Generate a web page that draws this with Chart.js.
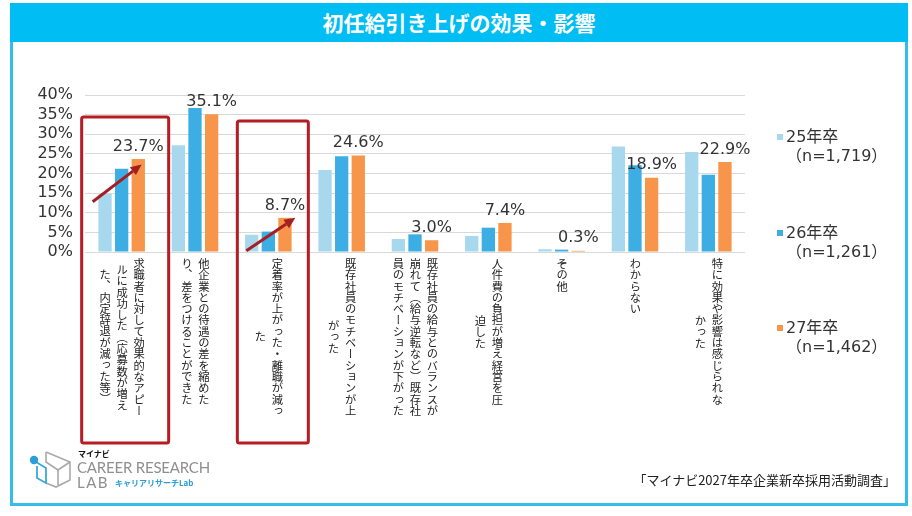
<!DOCTYPE html>
<html lang="ja">
<head>
<meta charset="utf-8">
<script src="https://cdn.jsdelivr.net/npm/chart.js@4/dist/chart.umd.min.js"></script>
<style>
  body { margin:0; width:912px; height:516px; position:relative; background:#fff; overflow:hidden;
         font-family:"Noto Sans CJK JP", sans-serif; color:#333; }
  #frame { position:absolute; left:10px; top:3px; width:892px; height:497px; border:3px solid #35bde9; }
  #title { position:absolute; left:10px; top:3px; width:898px; height:39px; background:#00bdf3;
           color:#fff; font-weight:bold; font-size:21px; line-height:39px; text-align:center; }
  #cv { position:absolute; left:0; top:0; }
  .cat { position:absolute; writing-mode:vertical-rl; text-align:center; font-size:11.3px;
         line-height:17px; white-space:nowrap; color:#222; transform:translateX(-50%); }
  .leg { position:absolute; left:777px; font-family:"DejaVu Sans","Noto Sans CJK JP",sans-serif;
         font-size:16px; line-height:19px; color:#333; }
  .leg i { position:absolute; left:0; top:7px; width:6px; height:6px; }
  .leg span { display:block; margin-left:9px; white-space:nowrap; }
  #foot { position:absolute; right:16px; top:470px; font-size:13px; color:#222; }
  #logo { position:absolute; left:28px; top:450px; }
  .lt { position:absolute; font-family:"Lato","DejaVu Sans",sans-serif; color:#8f8f8f; }
</style>
</head>
<body>
<div id="frame"></div>
<div id="title">初任給引き上げの効果・影響</div>
<canvas id="cv" width="912" height="516"></canvas>
<div id="foot">「マイナビ2027年卒企業新卒採用活動調査」</div>
<svg id="logo" width="46" height="40" viewBox="0 0 46 40">
  <polyline points="18,2 42,12 42,30 28,37 18,33" fill="none" stroke="#a9a9a9" stroke-width="1.6"/>
  <polyline points="18,2 18,12 30,20 42,12" fill="none" stroke="#a9a9a9" stroke-width="1.6"/>
  <polyline points="30,20 30,35" fill="none" stroke="#a9a9a9" stroke-width="1.6"/>
  <polyline points="8,12 18,18 18,33 9,28 9,16" fill="none" stroke="#3aa8dc" stroke-width="1.8"/>
  <circle cx="6" cy="10" r="4.2" fill="#2b9ed8"/>
</svg>
<div class="lt" style="left:78px;top:448px;font-size:8px;font-weight:bold;color:#111;font-family:'Noto Sans CJK JP'">マイナビ</div>
<div class="lt" style="left:77px;top:458px;font-size:15px;letter-spacing:-0.2px">CAREER RESEARCH</div>
<div class="lt" style="left:77px;top:473px;font-size:15px;letter-spacing:1.5px">LAB</div>
<div class="lt" style="left:115px;top:477px;font-size:8px;font-weight:bold;color:#2b9ed8;font-family:'Noto Sans CJK JP'">キャリアリサーチLab</div>

<script>
// 初任給引き上げの効果・影響
var categories = [
  ['求職者に対して効果的なアピー', 'ルに成功した（応募数が増え', 'た、内定辞退が減った等）'],
  ['他企業との待遇の差を縮めた', 'り、差をつけることができた'],
  ['定着率が上がった・離職が減っ', 'た'],
  ['既存社員のモチベーションが上', 'がった'],
  ['既存社員の給与とのバランスが', '崩れて（給与逆転など）既存社', '員のモチベーションが下がった'],
  ['人件費の負担が増え経営を圧', '迫した'],
  ['その他'],
  ['わからない'],
  ['特に効果や影響は感じられな', 'かった']
];
var seriesNames = ['25年卒', '26年卒', '27年卒'];
var seriesN = ['（n=1,719）', '（n=1,261）', '（n=1,462）'];
var s25 = [14.8, 27.2, 4.4, 20.9, 3.3, 4.1, 0.7, 26.9, 25.5];
var s26 = [21.2, 36.7, 5.2, 24.4, 4.5, 6.2, 0.6, 22.1, 19.7];
var s27 = [23.7, 35.1, 8.7, 24.6, 3.0, 7.4, 0.3, 18.9, 22.9];
var yTicks = [0, 5, 10, 15, 20, 25, 30, 35, 40];

var colors = ['#a8d8ed', '#3daee4', '#f7954a'];
var RED = '#b71c22';

// 縦書きの項目名 (HTML)
var catDivs = categories.map(function (lines) {
  var d = document.createElement('div');
  d.className = 'cat';
  d.innerHTML = lines.join('<br>');
  document.body.appendChild(d);
  return d;
});

// 凡例
seriesNames.forEach(function (nm, i) {
  var d = document.createElement('div');
  d.className = 'leg';
  d.style.top = (127 + i * 95.5) + 'px';
  d.innerHTML = '<i style="background:' + colors[i] + '"></i><span>' + nm + '</span><span>' + seriesN[i] + '</span>';
  document.body.appendChild(d);
});

function arrow(ctx, x1, y1, x2, y2) {
  var a = Math.atan2(y2 - y1, x2 - x1);
  var hl = 11, hw = 5;
  var bx = x2 - hl * Math.cos(a), by = y2 - hl * Math.sin(a);
  ctx.strokeStyle = '#a51e22';
  ctx.fillStyle = '#a51e22';
  ctx.lineWidth = 3;
  ctx.beginPath();
  ctx.moveTo(x1, y1);
  ctx.lineTo(bx, by);
  ctx.stroke();
  ctx.beginPath();
  ctx.moveTo(x2, y2);
  ctx.lineTo(bx + hw * Math.sin(a), by - hw * Math.cos(a));
  ctx.lineTo(bx - hw * Math.sin(a), by + hw * Math.cos(a));
  ctx.closePath();
  ctx.fill();
}

var extras = {
  id: 'extras',
  afterDatasetsDraw: function (chart) {
    var ctx = chart.ctx;
    var x = chart.scales.x, y = chart.scales.y;
    var bottom = chart.chartArea.bottom;

    // 27年卒の数値ラベル
    ctx.save();
    ctx.font = '16px "DejaVu Sans"';
    ctx.fillStyle = '#333';
    ctx.textAlign = 'center';
    ctx.textBaseline = 'middle';
    chart.getDatasetMeta(2).data.forEach(function (bar, i) {
      ctx.fillText(s27[i].toFixed(1) + '%', bar.x, bar.y - 12.5);
    });

    // 赤枠
    ctx.strokeStyle = RED;
    ctx.lineWidth = 3;
    var c0 = x.getPixelForValue(0), c2 = x.getPixelForValue(2);
    ctx.beginPath();
    ctx.roundRect(c0 - 40, y.getPixelForValue(34.4), 87, bottom + 191 - y.getPixelForValue(34.4), 2);
    ctx.stroke();
    ctx.beginPath();
    ctx.roundRect(c2 - 31, y.getPixelForValue(33.4), 71, bottom + 191 - y.getPixelForValue(33.4), 2);
    ctx.stroke();

    // 矢印
    arrow(ctx, c0 - 29, y.getPixelForValue(12.8), c0 + 20, y.getPixelForValue(22.3));
    arrow(ctx, c2 - 22, y.getPixelForValue(0.3), c2 + 27, y.getPixelForValue(8.7));
    ctx.restore();

    // 項目名の位置
    catDivs.forEach(function (d, i) {
      d.style.left = x.getPixelForValue(i) + 'px';
      d.style.top = (bottom + 6) + 'px';
    });
  }
};

new Chart(document.getElementById('cv'), {
  type: 'bar',
  data: {
    labels: categories,
    datasets: seriesNames.map(function (nm, i) {
      return {
        label: nm,
        data: [s25, s26, s27][i],
        backgroundColor: colors[i],
        categoryPercentage: 0.68,
        barPercentage: 0.8
      };
    })
  },
  options: {
    responsive: false,
    animation: false,
    layout: { padding: { left: 0, right: 167, top: 95, bottom: 264 } },
    plugins: { legend: { display: false }, tooltip: { enabled: false } },
    scales: {
      x: {
        ticks: { display: false },
        grid: { display: false },
        border: { display: false },
        afterFit: function (s) { s.height = 0; }
      },
      y: {
        min: 0,
        max: 40,
        afterBuildTicks: function (s) { s.ticks = yTicks.map(function (v) { return { value: v }; }); },
        afterFit: function (s) { s.width = 85; },
        ticks: {
          autoSkip: false,
          padding: 12,
          color: '#333',
          font: { family: 'DejaVu Sans', size: 16 },
          callback: function (v) { return v + '%'; }
        },
        grid: { color: '#d9d9d9', drawTicks: false },
        border: { display: false }
      }
    }
  },
  plugins: [extras]
});
</script>
</body>
</html>
